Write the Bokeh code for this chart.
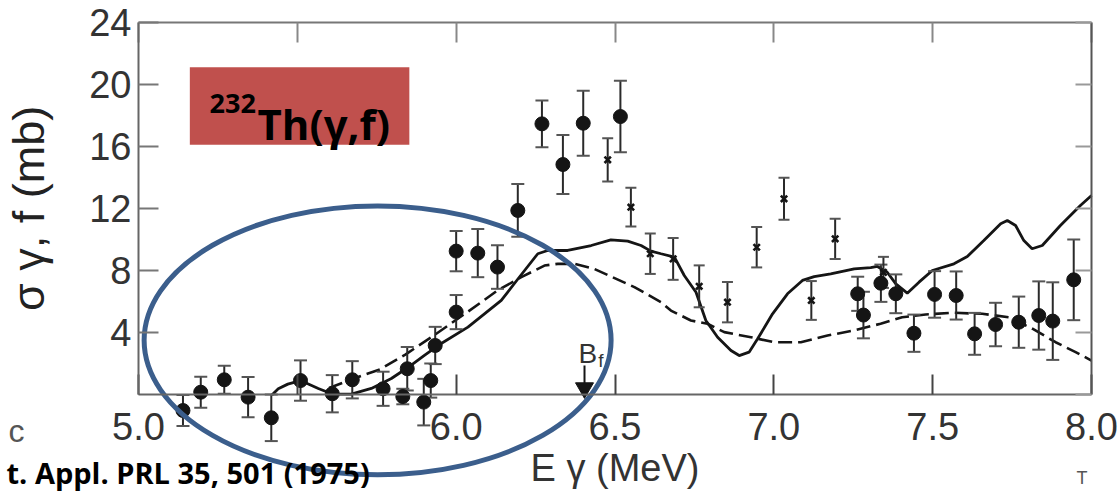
from bokeh.plotting import figure
from bokeh.models import Range1d, LinearAxis, FixedTicker, Label
from bokeh.core.properties import value
from bokeh.embed import file_html
from bokeh.resources import INLINE

# ---------------- data ----------------
# filled circles: photon energy (MeV), cross section (mb), error (mb)
circ_e = [5.14, 5.196, 5.27, 5.345, 5.418, 5.51, 5.61, 5.673, 5.77, 5.832, 5.846,
          5.898, 5.92, 5.934, 6.0, 6.0, 6.068, 6.13, 6.194, 6.27, 6.336, 6.40, 6.517,
          7.264, 7.282, 7.337, 7.384, 7.441, 7.506, 7.574, 7.632, 7.698, 7.771,
          7.834, 7.878, 7.944]
circ_s = [-1.0, 0.18, 0.98, -0.14, -1.47, 0.93, 0.08, 0.98, 0.4, -0.1, 1.69,
          -0.46, 0.93, 3.19, 5.34, 9.27, 9.14, 8.24, 11.89, 17.47, 14.85, 17.51, 17.94,
          6.52, 5.15, 7.2, 6.52, 3.98, 6.48, 6.41, 3.94, 4.54, 4.69,
          5.12, 4.76, 7.42]
circ_err = [1.0, 1.0, 0.9, 1.3, 1.5, 1.3, 1.2, 1.2, 1.1, 0.5, 1.4,
            1.5, 1.1, 1.2, 1.1, 1.3, 1.55, 1.4, 1.7, 1.5, 1.9, 2.1, 2.3,
            1.1, 1.5, 1.2, 1.25, 1.2, 1.5, 1.55, 1.35, 1.4, 1.65,
            2.2, 2.5, 2.6]

# crosses: second data set
xm_e = [6.477, 6.55, 6.611, 6.683, 6.765, 6.854, 6.946, 7.032, 7.118, 7.193, 7.345]
xm_s = [15.15, 12.1, 9.1, 8.77, 7.0, 5.98, 9.52, 12.64, 6.09, 10.06, 7.9]
xm_err = [1.4, 1.25, 1.3, 1.35, 1.35, 1.3, 1.3, 1.35, 1.25, 1.3, 1.0]

# solid theory curve
solid_e = [5.42, 5.44, 5.47, 5.51, 5.566, 5.61, 5.67, 5.733, 5.796, 5.848, 5.90,
           5.953, 6.037, 6.142, 6.198, 6.257, 6.288, 6.351, 6.425, 6.487, 6.54,
           6.582, 6.613, 6.645, 6.687, 6.718, 6.755, 6.786, 6.823, 6.865, 6.891,
           6.922, 6.949, 6.996, 7.043, 7.09, 7.127, 7.179, 7.253, 7.305, 7.326,
           7.357, 7.384, 7.42, 7.457, 7.499, 7.567, 7.609, 7.661, 7.714, 7.735,
           7.761, 7.787, 7.813, 7.845, 7.902, 7.965, 8.0]
solid_s = [0.0, 0.4, 0.7, 0.93, 0.42, 0.06, 0.06, 0.42, 1.06, 1.77, 2.55,
           3.32, 4.37, 6.09, 7.57, 9.1, 9.31, 9.31, 9.63, 10.0, 9.91,
           9.63, 9.27, 9.1, 8.88, 7.7, 6.62, 4.8, 3.72, 2.87, 2.54,
           2.76, 3.62, 5.23, 6.52, 7.38, 7.63, 7.81, 8.13, 8.2, 8.28,
           7.91, 7.16, 6.56, 7.27, 8.02, 8.45, 8.92, 9.95, 11.03, 11.24,
           10.92, 9.95, 9.42, 9.63, 10.92, 12.21, 12.85]

# dashed theory curve
dash_e = [5.60, 5.67, 5.76, 5.84, 5.92, 6.035, 6.13, 6.205, 6.278, 6.32, 6.372,
          6.434, 6.561, 6.645, 6.676, 6.739, 6.791, 6.844, 6.928, 7.0, 7.085,
          7.169, 7.253, 7.336, 7.404, 7.478, 7.561, 7.656, 7.74, 7.814, 7.887,
          7.95, 8.0]
dash_s = [0.45, 1.0, 1.65, 2.6, 3.7, 5.34, 6.73, 7.59, 8.34, 8.45, 8.45,
          8.13, 6.95, 5.98, 5.44, 4.8, 4.59, 4.05, 3.72, 3.4, 3.4,
          3.83, 4.16, 4.59, 5.01, 5.19, 5.3, 5.23, 5.01, 4.27, 3.4,
          2.76, 2.22]

# axes
y_ticks = [4, 8, 12, 16, 20, 24]
y_ticks_right = [0, 4, 8, 12, 16, 20, 24]
x_ticks = [5.0, 5.5, 6.0, 6.5, 7.0, 7.5, 8.0]
x_tick_labels = ["5.0", "", "6.0", "6.5", "7.0", "7.5", "8.0"]

# fission barrier marker
bf_energy = [6.404]

# ---------------- layout / decoration positions ----------------
FONT = "Liberation Sans"
BOLD = "Open Sans"
INK = "#151515"

# the plotting frame covers the whole canvas; axes are drawn at fixed data locations
p = figure(width=1119, height=494,
           x_range=Range1d(4.5656, 8.0881), y_range=Range1d(-6.412, 25.4175),
           x_axis_type=None, y_axis_type=None, toolbar_location=None,
           output_backend="svg", title=None,
           min_border_left=0, min_border_right=0, min_border_top=0, min_border_bottom=0)
p.outline_line_color = None
p.background_fill_color = "white"
p.border_fill_color = "white"

axis_common = dict(major_tick_out=0, minor_tick_line_color=None,
                   axis_line_width=2, major_tick_line_width=2,
                   major_label_text_font=FONT, major_label_text_color="#333",
                   major_label_text_font_size="38px")

left = LinearAxis(fixed_location=5.0, bounds=(0, 24),
                  ticker=FixedTicker(ticks=y_ticks, minor_ticks=[]),
                  major_tick_in=20, axis_line_color="#666", major_tick_line_color="#777",
                  major_label_standoff=7,
                  axis_label="σ γ, f (mb)", axis_label_text_font=FONT,
                  axis_label_text_font_size="45px", axis_label_text_font_style="normal",
                  axis_label_text_color="#222", axis_label_standoff=32,
                  **axis_common)
p.add_layout(left, "left")

bottom = LinearAxis(fixed_location=0.0, bounds=(5.0, 8.0),
                    ticker=FixedTicker(ticks=x_ticks, minor_ticks=[]),
                    major_label_overrides={t: s for t, s in zip(x_ticks, x_tick_labels)},
                    major_tick_in=20, axis_line_color="#666", major_tick_line_color="#444",
                    major_label_standoff=18,
                    axis_label="E γ (MeV)", axis_label_text_font=FONT,
                    axis_label_text_font_size="38px", axis_label_text_font_style="normal",
                    axis_label_text_color="#333", axis_label_standoff=4,
                    **axis_common)
p.add_layout(bottom, "below")

top = LinearAxis(fixed_location=24.0, bounds=(5.0, 8.0),
                 ticker=FixedTicker(ticks=x_ticks, minor_ticks=[]),
                 major_tick_in=20, axis_line_color="#777", major_tick_line_color="#888",
                 major_tick_out=0, minor_tick_line_color=None, axis_line_width=2,
                 major_tick_line_width=2, major_label_text_color=None)
p.add_layout(top, "above")

right = LinearAxis(fixed_location=8.0, bounds=(0, 24),
                   ticker=FixedTicker(ticks=y_ticks_right, minor_ticks=[]),
                   major_tick_in=16, axis_line_color="#555", major_tick_line_color="#999",
                   major_tick_out=0, minor_tick_line_color=None, axis_line_width=2,
                   major_tick_line_width=2, major_label_text_color=None)
p.add_layout(right, "right")

# title box
p.quad(left=[5.1616], right=[5.8526], top=[21.12], bottom=[16.12],
       fill_color="#C0504D", line_color=None)
p.text(x=[5.2236], y=[18.78], text=["232"], text_font=value(BOLD),
       text_font_style="bold", text_font_size="27px", text_color="black",
       text_baseline="alphabetic")
p.text(x=[5.3746], y=[17.49], text=["Th(γ,f)"], text_font=value(BOLD),
       text_font_style="bold", text_font_size="42px", text_color="black",
       text_baseline="alphabetic")

# theory curves
p.line(solid_e, solid_s, line_color=INK, line_width=2.8)
p.line(dash_e, dash_s, line_color=INK, line_width=2.6, line_dash="14 6")

# error bars
def error_bars(e, s, err, cap):
    lo = [a - b for a, b in zip(s, err)]
    hi = [a + b for a, b in zip(s, err)]
    p.segment(x0=e, y0=lo, x1=e, y1=hi, line_color="#2a2a2a", line_width=2)
    p.scatter(e + e, lo + hi, marker="dash", size=cap, line_color="#555", line_width=2)

error_bars(circ_e, circ_s, circ_err, 13)
error_bars(xm_e, xm_s, xm_err, 11)

p.scatter(circ_e, circ_s, marker="circle", size=14, fill_color=INK, line_color=INK)
p.scatter(xm_e, xm_s, marker="x", size=9, line_color=INK, line_width=2.6)

# fission barrier arrow
p.segment(x0=bf_energy, y0=[1.9], x1=bf_energy, y1=[0.7], line_color=INK, line_width=2)
p.scatter(bf_energy, [0.45], marker="inverted_triangle", size=18,
          fill_color=INK, line_color=INK)
p.text(x=[6.385], y=[2.67], text=["B"], text_font=value(FONT), text_font_size="28px",
       text_color="#333", text_baseline="alphabetic")
p.text(x=[6.447], y=[2.2], text=["f"], text_font=value(FONT), text_font_size="19px",
       text_color="#333", text_baseline="alphabetic")

# highlight ellipse
p.ellipse(x=[5.7527], y=[3.52], width=[1.47], height=[17.33],
          fill_color=None, line_color="#3B5E8C", line_width=5)

# stray texts of the slide
p.text(x=[7.9528], y=[-5.38], text=["T"], text_font=value(FONT), text_font_size="18px",
       text_color="#555", text_baseline="alphabetic")
p.add_layout(Label(x=4.5908, y=-2.29, text="c", text_font=FONT, text_font_size="32px",
                   text_color="#555", text_baseline="alphabetic"))
p.add_layout(Label(x=4.5845, y=-5.0, text="t. Appl. PRL 35, 501 (1975)", text_font=BOLD,
                   text_font_style="bold", text_font_size="29px", text_color="black",
                   text_baseline="alphabetic"))

open("out.html", "w").write(file_html(p, INLINE))
